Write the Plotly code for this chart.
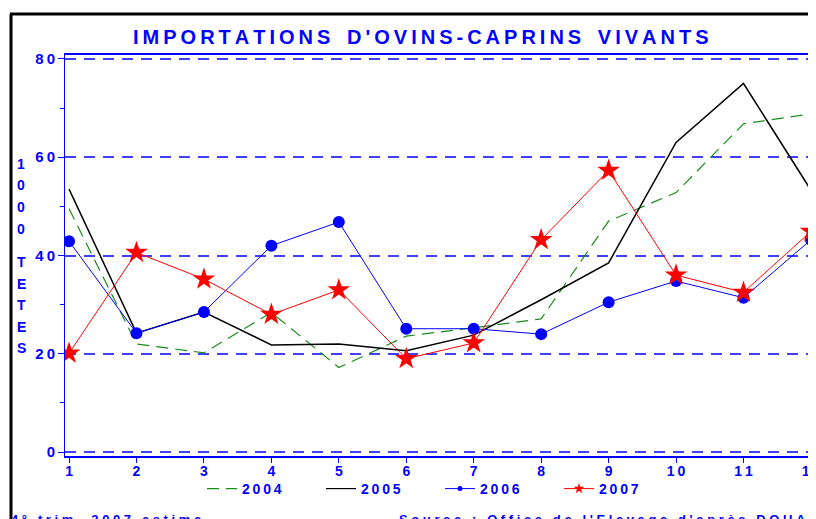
import plotly.graph_objects as go

months = [1, 2, 3, 4, 5, 6, 7, 8, 9, 10, 11, 12]
y2004 = [49.5, 22.0, 20.2, 28.4, 17.2, 23.6, 25.3, 27.1, 47.0, 52.8, 66.8, 68.8]
y2005 = [53.5, 24.2, 28.5, 21.8, 22.0, 20.6, 23.8, 31.0, 38.5, 63.0, 75.0, 53.3]
y2006 = [42.9, 24.2, 28.5, 42.0, 46.8, 25.1, 25.1, 24.0, 30.5, 34.8, 31.4, 43.2]
y2007 = [20.1, 40.6, 35.2, 28.0, 33.0, 19.0, 22.2, 43.2, 57.3, 36.0, 32.5, 44.9]
y_ticks = [0, 20, 40, 60, 80]
x_ticks = months

BLUE = "#0000ff"
GREEN = "#1a8c1a"
RED = "#ff0000"
TS = "\u2009"
NB = "\u00a0"

def spaced(s, sep=TS):
    return sep.join(list(s))

def wide(s):
    return (NB * 3).join(NB.join(list(w)) for w in s.split(" "))

# figure is drawn inside an 8px body margin: plot area spans page x 65..815, y 55..456
OFF = 8
L, R, T, B = 65, 815, 55, 456
W, H = 816 - OFF, 519 - OFF
PW, PH = R - L, B - T

def px(X):
    return (X - L) / PW

def py(Y):
    return (B - Y) / PH

fig = go.Figure()
fig.add_trace(go.Scatter(x=months, y=y2004, mode="lines", name=spaced("2004"), showlegend=False,
                         line=dict(color=GREEN, width=1.2, dash="12px,7px")))
fig.add_trace(go.Scatter(x=months, y=y2005, mode="lines", name=spaced("2005"), showlegend=False,
                         line=dict(color="black", width=1.5)))
fig.add_trace(go.Scatter(x=months, y=y2006, mode="lines+markers", name=spaced("2006"), showlegend=False,
                         line=dict(color=BLUE, width=1),
                         marker=dict(symbol="circle", size=12, color=BLUE)))
fig.add_trace(go.Scatter(x=months, y=y2007, mode="lines+markers", name=spaced("2007"), showlegend=False,
                         line=dict(color=RED, width=1),
                         marker=dict(symbol="star", size=17, color=RED)))
# legend-only entries with small markers
fig.add_trace(go.Scatter(x=[None], y=[None], mode="lines", name=spaced("2004"),
                         line=dict(color=GREEN, width=1.2, dash="12px,7px")))
fig.add_trace(go.Scatter(x=[None], y=[None], mode="lines", name=spaced("2005"),
                         line=dict(color="black", width=1.2)))
fig.add_trace(go.Scatter(x=[None], y=[None], mode="lines+markers", name=spaced("2006"),
                         line=dict(color=BLUE, width=1), marker=dict(symbol="circle", size=5, color=BLUE)))
fig.add_trace(go.Scatter(x=[None], y=[None], mode="lines+markers", name=spaced("2007"),
                         line=dict(color=RED, width=1), marker=dict(symbol="star", size=8, color=RED)))

font_bold = dict(family="Liberation Sans, Arial, sans-serif", color=BLUE, weight="bold")

fig.update_xaxes(range=[0.94, 12.06], tickvals=x_ticks, ticktext=[spaced(str(v)) for v in x_ticks],
                 showgrid=False, zeroline=False, showline=True, linecolor=BLUE, linewidth=2,
                 mirror=True, ticks="outside", ticklen=5, tickcolor=BLUE, ticklabelstandoff=-4,
                 ticklabeloverflow="allow", automargin=False,
                 tickfont=dict(size=14, **font_bold))
fig.update_yaxes(range=[-0.8, 80.8], tickvals=y_ticks, ticktext=[spaced(str(v)) for v in y_ticks],
                 showgrid=True, gridcolor="#4040ff", griddash="11px,8px", gridwidth=1.5,
                 zeroline=False, showline=True, linecolor=BLUE, linewidth=1,
                 mirror=True, ticks="outside", ticklen=6, tickcolor=BLUE, automargin=False,
                 minor=dict(tickvals=[10, 30, 50, 70], ticks="outside", ticklen=4, tickcolor=BLUE, showgrid=False),
                 tickfont=dict(size=15, **font_bold))

annotations = [
    dict(text=spaced("IMPORTATIONS") + NB * 3 + spaced("D'OVINS-CAPRINS") + NB * 3 + spaced("VIVANTS"),
         xref="paper", yref="paper", x=px(421), y=py(37),
         xanchor="center", yanchor="middle", showarrow=False,
         font=dict(size=20, **font_bold)),
    dict(text=wide("4° trim. 2007 estime"), xref="paper", yref="paper",
         x=px(9), y=py(519), xanchor="left", yanchor="middle",
         showarrow=False, font=dict(size=13, **font_bold)),
    dict(text=wide("Source : Office de l'Elevage d'après DOUANES"), xref="paper", yref="paper",
         x=px(397), y=py(519), xanchor="left", yanchor="middle",
         showarrow=False, font=dict(size=13, **font_bold)),
]
letters = ["1", "0", "0", "0", "T", "E", "T", "E", "S"]
ys = [164, 185, 207, 229, 262, 284, 305, 327, 348]
for ch, yp in zip(letters, ys):
    annotations.append(dict(text=ch, xref="paper", yref="paper", x=px(21),
                            y=py(yp), xanchor="center", yanchor="middle",
                            showarrow=False, font=dict(size=14, **font_bold)))

fig.update_layout(
    width=W, height=H,
    margin=dict(l=L - OFF, r=W - (R - OFF), t=T - OFF, b=H - (B - OFF), pad=0, autoexpand=False),
    paper_bgcolor="white", plot_bgcolor="white",
    showlegend=True,
    legend=dict(orientation="h", x=px(440), y=py(473),
                xanchor="center", yanchor="top", entrywidth=74, entrywidthmode="pixels",
                font=dict(size=14, **font_bold), bgcolor="rgba(0,0,0,0)", tracegroupgap=0),
    annotations=annotations,
    shapes=[
        dict(type="line", xref="paper", yref="paper", x0=px(10), x1=px(830),
             y0=py(14), y1=py(14), line=dict(color="black", width=3)),
        dict(type="line", xref="paper", yref="paper", x0=px(11), x1=px(11),
             y0=py(14), y1=py(530), line=dict(color="black", width=3)),
    ],
)

fig.write_html("out.html")
